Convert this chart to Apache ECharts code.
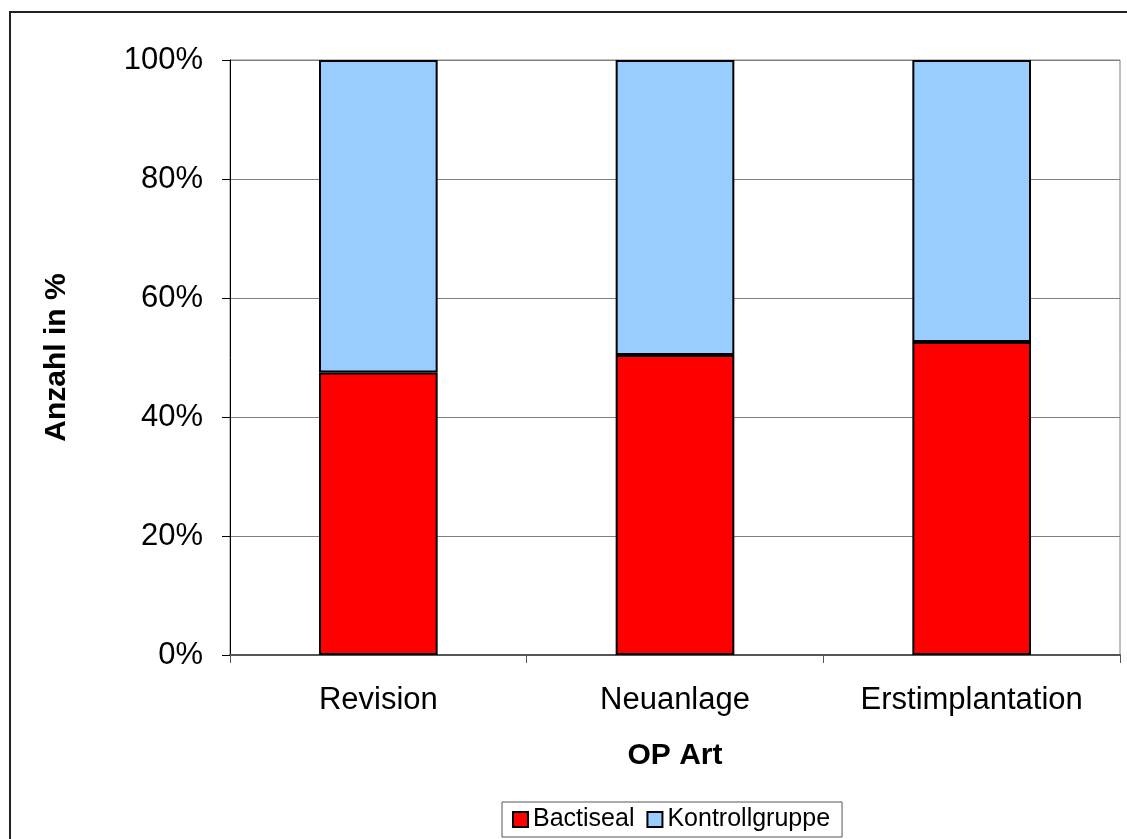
<!DOCTYPE html>
<html>
<head>
<meta charset="utf-8">
<script src="https://cdn.jsdelivr.net/npm/echarts@6/dist/echarts.min.js"></script>
<style>
  html, body { margin: 0; padding: 0; background: #ffffff; }
  #chart { width: 1127px; height: 839px; }
</style>
</head>
<body>
<div id="chart"></div>
<script>
// Categories (operation type) and shares per group in percent
const categories = ['Revision', 'Neuanlage', 'Erstimplantation'];
const bactiseal = [47.5, 50.4, 52.6];
const kontrollgruppe = [52.5, 49.6, 47.4];
const seriesNames = ['Bactiseal', 'Kontrollgruppe'];

const FONT = '"Liberation Sans", Arial, sans-serif';

const chart = echarts.init(document.getElementById('chart'), null, { renderer: 'canvas' });

chart.setOption({
  backgroundColor: '#ffffff',
  animation: false,
  textStyle: { fontFamily: FONT, color: '#000' },
  graphic: [{
    type: 'rect',
    shape: { x: 10, y: 12, width: 1140, height: 860 },
    style: { fill: 'none', stroke: '#222', lineWidth: 2 },
    silent: true,
    z: -1
  }],
  grid: {
    left: 230, right: 7, top: 60, bottom: 184,
    show: true, borderColor: '#808080', borderWidth: 1, backgroundColor: 'transparent'
  },
  legend: {
    data: seriesNames,
    left: 502, top: 802,
    padding: [5, 12, 5, 10],
    itemWidth: 15, itemHeight: 15, itemGap: 12,
    borderColor: '#555', borderWidth: 1,
    icon: 'rect',
    itemStyle: { borderColor: '#000', borderWidth: 2 },
    textStyle: { fontFamily: FONT, fontSize: 25, color: '#000' }
  },
  xAxis: {
    type: 'category',
    data: categories,
    name: 'OP Art',
    nameLocation: 'middle',
    nameGap: 86,
    nameTextStyle: { fontFamily: FONT, fontSize: 30, fontWeight: 'bold', color: '#000' },
    axisLine: { lineStyle: { color: '#555', width: 2 } },
    axisTick: { show: true, length: 8, lineStyle: { color: '#555', width: 1 } },
    axisLabel: { fontFamily: FONT, fontSize: 31, color: '#000', margin: 30 }
  },
  yAxis: {
    type: 'value',
    min: 0, max: 100, interval: 20,
    name: 'Anzahl in %',
    nameLocation: 'middle',
    nameGap: 158,
    nameTextStyle: { fontFamily: FONT, fontSize: 30, fontWeight: 'bold', color: '#000' },
    axisLine: { show: true, lineStyle: { color: '#000', width: 1 } },
    axisTick: { show: true, length: 8, lineStyle: { color: '#000' } },
    axisLabel: { fontFamily: FONT, fontSize: 31, color: '#000', margin: 27, formatter: '{value}%' },
    splitLine: { show: true, lineStyle: { color: '#808080', width: 1 } }
  },
  series: [
    {
      name: seriesNames[0],
      type: 'bar',
      stack: 'total',
      barWidth: '40%',
      data: bactiseal,
      itemStyle: { color: '#FF0000', borderColor: '#000', borderWidth: 2 }
    },
    {
      name: seriesNames[1],
      type: 'bar',
      stack: 'total',
      barWidth: '40%',
      data: kontrollgruppe,
      itemStyle: { color: '#99CCFF', borderColor: '#000', borderWidth: 2 }
    }
  ]
});
</script>
</body>
</html>
